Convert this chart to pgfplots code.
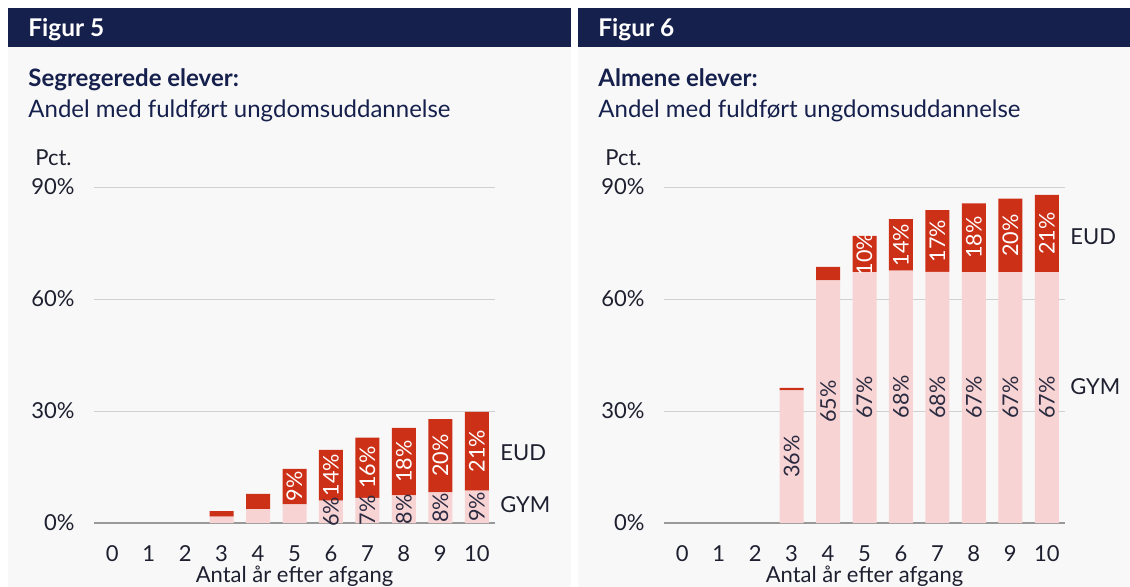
\documentclass[border=0pt]{standalone}
\usepackage{fontspec}
\setmainfont{Lato}
\usepackage{pgfplots}
\pgfplotsset{compat=1.18}
\definecolor{navy}{HTML}{16204D}
\definecolor{eud}{HTML}{CC3118}
\definecolor{gym}{HTML}{F7D3D3}
\definecolor{bg}{HTML}{F8F8F8}
\definecolor{gridc}{HTML}{D0D0D0}
\definecolor{axc}{HTML}{999999}
\definecolor{txt}{HTML}{1E2030}
\definecolor{lbl}{HTML}{2A2A40}
\tikzset{side/.style={anchor=west, inner sep=2.5pt, font=\fontsize{11}{13}\selectfont, text=txt}}
\pgfplotsset{
  panel/.style={
    width=200.5pt, height=168pt, scale only axis,
    xmin=-0.5, xmax=10.5, ymin=0, ymax=90,
    /pgf/number format/assume math mode=true,
    axis x line*=bottom, axis y line*=left,
    y axis line style={draw=none},
    x axis line style={draw=axc, line width=0.75pt},
    ytick={0,30,60,90},
    yticklabel={\pgfmathprintnumber{\tick}\%},
    ytick style={draw=none},
    ymajorgrids, grid style={draw=gridc, line width=0.5pt},
    xtick={0,...,10},
    xtick style={draw=none},
    extra x ticks={-0.5,0.5,...,10.5},
    extra x tick labels={},
    extra x tick style={grid=none, tick style={draw=axc, line width=0.75pt}, major tick length=3.5pt, tick align=outside},
    tick label style={font=\fontsize{11}{13}\selectfont, text=txt},
    yticklabel style={inner sep=0pt, anchor=east, xshift=-9.5pt},
    xticklabel style={inner sep=0pt, anchor=north, yshift=-11pt},
    xlabel={Antal år efter afgang},
    xlabel style={font=\fontsize{11}{13}\selectfont, text=txt, inner sep=0pt, anchor=base, at={(axis description cs:0.5,0)}, yshift=-29.5pt},
    ybar stacked, bar width=12pt,
  },
  lab/.style={
    width=200.5pt, height=168pt, scale only axis,
    xmin=-0.5, xmax=10.5, ymin=0, ymax=90, hide axis, clip=false,
  },
  wlab/.style={draw=none, mark=none, nodes near coords, point meta=explicit symbolic,
    every node near coord/.append style={rotate=90, anchor=center, inner sep=0pt, text=white, font=\fontsize{10.8}{13}\selectfont}},
  dlab/.style={draw=none, mark=none, nodes near coords, point meta=explicit symbolic,
    every node near coord/.append style={rotate=90, anchor=center, inner sep=0pt, text=lbl, font=\fontsize{10.8}{13}\selectfont}},
}
\begin{document}
\begin{tikzpicture}[x=0.5pt,y=-0.5pt]
\useasboundingbox (0,0) rectangle (1130,587);
\fill[white] (0,0) rectangle (1130,587);
% panels
\fill[bg] (8,47.5) rectangle (571,587);
\fill[navy] (8,8) rectangle (571,47.5);
\fill[bg] (578,47.5) rectangle (1130,587);
\fill[navy] (578,8) rectangle (1130,47.5);
% left texts
\node[anchor=base west, inner sep=0pt, text=white, font=\bfseries\fontsize{12.2}{14}\selectfont] at (28,36.5) {Figur 5};
\node[anchor=base west, inner sep=0pt, text=navy, font=\bfseries\fontsize{12}{14}\selectfont] at (28,87) {Segregerede elever:};
\node[anchor=base west, inner sep=0pt, text=navy, font=\fontsize{12}{14}\selectfont] at (28,118) {Andel med fuldført ungdomsuddannelse};
\node[anchor=base west, inner sep=0pt, text=txt, font=\fontsize{11}{13}\selectfont] at (35,166) {Pct.};
% right texts
\node[anchor=base west, inner sep=0pt, text=white, font=\bfseries\fontsize{12.2}{14}\selectfont] at (598,36.5) {Figur 6};
\node[anchor=base west, inner sep=0pt, text=navy, font=\bfseries\fontsize{12}{14}\selectfont] at (598,87) {Almene elever:};
\node[anchor=base west, inner sep=0pt, text=navy, font=\fontsize{12}{14}\selectfont] at (598,118) {Andel med fuldført ungdomsuddannelse};
\node[anchor=base west, inner sep=0pt, text=txt, font=\fontsize{11}{13}\selectfont] at (605,166) {Pct.};

% ---------- Figur 5 ----------
\begin{axis}[panel, at={(47pt,-261.5pt)}, anchor=south west]
\addplot[fill=gym, draw=none] coordinates {(3,1.7) (4,3.7) (5,5.0) (6,6.0) (7,6.7) (8,7.4) (9,8.2) (10,8.7)};
\addplot[fill=eud, draw=none] coordinates {(3,1.5) (4,4.1) (5,9.5) (6,13.6) (7,16.2) (8,18.1) (9,19.6) (10,21.1)};
\end{axis}
\begin{axis}[lab, at={(47pt,-261.5pt)}, anchor=south west]
\addplot[wlab] coordinates {(5,9.75)[9\%] (6,12.8)[14\%] (7,14.8)[16\%] (8,16.45)[18\%] (9,18)[20\%] (10,19.25)[21\%]};
\addplot[dlab] coordinates {(6,3)[6\%] (7,3.35)[7\%] (8,3.7)[8\%] (9,4.1)[8\%] (10,4.35)[9\%]};
\node[side] at (axis cs:10.5,18.75) {EUD};
\node[side] at (axis cs:10.5,4.8) {GYM};
\end{axis}

% ---------- Figur 6 ----------
\begin{axis}[panel, at={(332pt,-261.5pt)}, anchor=south west]
\addplot[fill=gym, draw=none] coordinates {(3,35.5) (4,65.0) (5,67.2) (6,67.6) (7,67.3) (8,67.2) (9,67.2) (10,67.2)};
\addplot[fill=eud, draw=none] coordinates {(3,0.7) (4,3.6) (5,9.7) (6,13.8) (7,16.5) (8,18.4) (9,19.7) (10,20.7)};
\end{axis}
\begin{axis}[lab, at={(332pt,-261.5pt)}, anchor=south west]
\addplot[wlab] coordinates {(5,72.05)[10\%] (6,74.5)[14\%] (7,75.55)[17\%] (8,76.4)[18\%] (9,77.05)[20\%] (10,77.55)[21\%]};
\addplot[dlab] coordinates {(3,17.75)[36\%] (4,32.5)[65\%] (5,33.6)[67\%] (6,33.8)[68\%] (7,33.65)[68\%] (8,33.6)[67\%] (9,33.6)[67\%] (10,33.6)[67\%]};
\node[side] at (axis cs:10.5,76.6) {EUD};
\node[side] at (axis cs:10.5,36.4) {GYM};
\end{axis}
\end{tikzpicture}
\end{document}
